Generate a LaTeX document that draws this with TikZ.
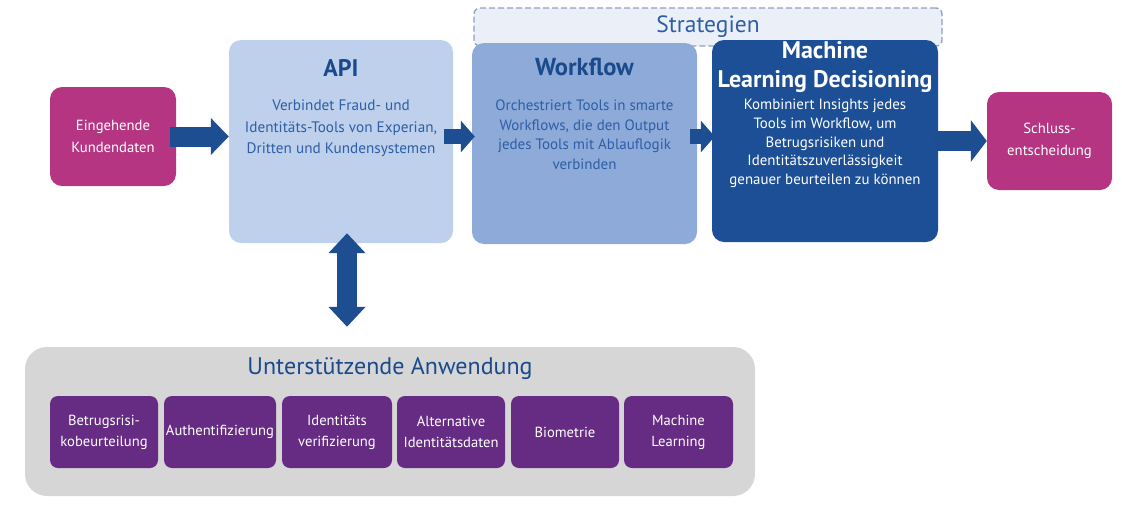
\documentclass[tikz,border=0pt]{standalone}
\usepackage{fontspec}
\setmainfont{PT Sans}
\usetikzlibrary{arrows.meta}
\definecolor{kunde}{HTML}{B63583}
\definecolor{apiblau}{HTML}{BED0EC}
\definecolor{wfblau}{HTML}{8EAAD9}
\definecolor{mlblau}{HTML}{1C4F95}
\definecolor{titelblau}{HTML}{1B4A8C}
\definecolor{textblau}{HTML}{2D5EA6}
\definecolor{pfeilblau}{HTML}{1E4E92}
\definecolor{stratfill}{HTML}{EBF0F8}
\definecolor{stratrand}{HTML}{8DA0C0}
\definecolor{stuetzgrau}{HTML}{D6D6D6}
\definecolor{lila}{HTML}{662B83}
\begin{document}
\begin{tikzpicture}[x=1pt,y=-1pt,
	box/.style={rounded corners=12pt,inner sep=0pt},
	titel/.style={font=\fontsize{24.5}{29}\selectfont\bfseries,align=center},
	fliess/.style={font=\fontsize{15}{19.5}\selectfont,align=center},
	pfeil/.style={draw=pfeilblau,line width=#1},
	kachel/.style={box,rounded corners=8pt,fill=lila,text=white,minimum width=108pt,minimum height=72pt,
		font=\fontsize{14.6}{21}\selectfont,align=center}]
	\useasboundingbox (0,0) rectangle (1122,504);
	% Strategien
	\node [box,rounded corners=6pt,fill=stratfill,draw=stratrand,line width=1.3pt,dash pattern=on 6pt off 3pt,
		minimum width=468pt,minimum height=38pt,text=textblau,font=\fontsize{23.5}{24}\selectfont] (strat) at (708,27) {Strategien};
	% obere Reihe
	\node [box,fill=kunde,text=white,minimum width=126pt,minimum height=99pt,align=center,
		font=\fontsize{14.7}{22}\selectfont] (eing) at (113,136.5) {Eingehende\\Kundendaten};
	\node [box,fill=apiblau,minimum width=224pt,minimum height=203pt] (api) at (341,141.5) {};
	\node [box,fill=wfblau,minimum width=225pt,minimum height=201pt] (wf) at (584.5,143.5) {};
	\node [box,fill=mlblau,minimum width=226pt,minimum height=202pt] (ml) at (825,141) {};
	\node [box,fill=kunde,text=white,minimum width=125pt,minimum height=98pt,align=center,
		font=\fontsize{14.7}{22}\selectfont] (ende) at (1049.5,141) {Schluss-\\entscheidung};
	\node [titel,text=titelblau,font=\fontsize{24}{29}\selectfont\bfseries] (apititel) at (341,68) {API};
	\node [fliess,text=textblau,font=\fontsize{15.2}{21.5}\selectfont] (apitext) at (341,128.5)
		{Verbindet Fraud- und\\Identitäts-Tools von Experian,\\Dritten und Kundensystemen};
	\node [titel,text=titelblau] (wftitel) at (584.5,67) {Workflow};
	\node [fliess,text=textblau] (wftext) at (584.5,134.5)
		{Orchestriert Tools in smarte\\Workflows, die den Output\\jedes Tools mit Ablauflogik\\verbinden};
	\node [titel,text=white,font=\fontsize{24}{29}\selectfont\bfseries] (mltitel) at (825,67.5) {Machine\\Learning Decisioning};
	\node [fliess,text=white,font=\fontsize{14.9}{18.75}\selectfont] (mltext) at (825,143.5)
		{Kombiniert Insights jedes\\Tools im Workflow, um\\Betrugsrisiken und\\Identitätszuverlässigkeit\\genauer beurteilen zu können};
	% untere Gruppe
	\node [box,rounded corners=22pt,fill=stuetzgrau,minimum width=730pt,minimum height=149pt] (unter) at (390,421.5) {};
	\node [text=titelblau,font=\fontsize{24}{28}\selectfont] (untertitel) at (390,369) {Unterstützende Anwendung};
	\node [kachel] (risiko) at (104,432) {Betrugsrisi-\\kobeurteilung};
	\node [kachel,minimum width=112pt] (auth) at (220,432) {Authentifizierung};
	\node [kachel,minimum width=110pt] (ident) at (337,432) {Identitäts\\verifizierung};
	\node [kachel] (alt) at (451,432) {Alternative\\Identitätsdaten};
	\node [kachel] (bio) at (565,432) {Biometrie};
	\node [kachel,minimum width=109pt] (ml2) at (678.5,432) {Machine\\Learning};
	% Pfeile
	\draw [pfeil=20pt,-{Triangle[length=18pt,width=36pt]}] ([xshift=-6pt]eing.east) -- (eing.east -| api.west);
	\draw [pfeil=15pt,-{Triangle[length=14pt,width=31pt]}] ([xshift=-9pt]eing.east -| api.east) -- ([xshift=3pt]eing.east -| wf.west);
	\draw [pfeil=15pt,-{Triangle[length=14pt,width=31pt]}] ([xshift=-7pt]eing.east -| wf.east) -- ([xshift=3pt]eing.east -| ml.west);
	\draw [pfeil=20pt,-{Triangle[length=16pt,width=41pt]}] ([xshift=-4pt]ml.east |- ende.west) -- (ende.west);
	\draw [pfeil=20pt,{Triangle[length=20pt,width=36pt]}-{Triangle[length=20pt,width=36pt]}]
		([xshift=6pt,yshift=10pt]api.south) -- ([xshift=6pt,yshift=20pt]api.south |- unter.north);
\end{tikzpicture}
\end{document}
